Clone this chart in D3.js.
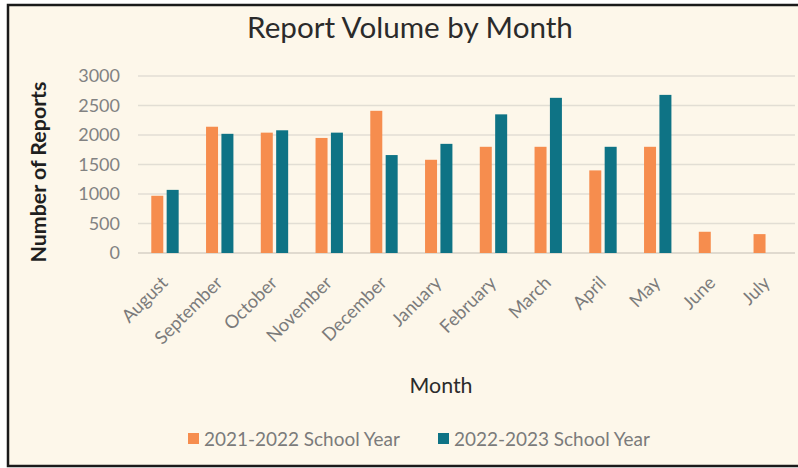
<!DOCTYPE html>
<html><head><meta charset="utf-8">
<script src="https://cdn.jsdelivr.net/npm/d3@7"></script>
<style>body{margin:0;background:#fff}svg{display:block}</style></head>
<body><svg id="c" width="798" height="468"></svg>
<script>
const months = ["August","September","October","November","December","January","February","March","April","May","June","July"];
const seriesNames = ["2021-2022 School Year","2022-2023 School Year"];
const values2122 = [970,2140,2040,1950,2410,1580,1800,1800,1400,1800,360,320];
const values2223 = [1070,2020,2080,2040,1660,1850,2350,2630,1800,2680,null,null];
const yTicks = [0,500,1000,1500,2000,2500,3000];
const colors = ["#F68D4E","#0E7385"];

const svg = d3.select("#c");
const FONT = "Lato, 'Open Sans', sans-serif";

svg.append("rect").attr("x",8).attr("y",5).attr("width",800).attr("height",461)
  .attr("fill","#FDF7EA").attr("stroke","#1a1a1a").attr("stroke-width",2.5);

const x0 = d3.scaleBand().domain(months).range([137.6,794.6]).paddingInner(0.5).paddingOuter(0.25);
const x1 = d3.scaleBand().domain(seriesNames).range([0,x0.bandwidth()]).paddingInner(0.22);
const y = d3.scaleLinear().domain([0,3000]).range([253,76]);

function fit(sel, target){
  const w = sel.node().getComputedTextLength();
  const fs = parseFloat(sel.attr("font-size"));
  sel.attr("font-size", fs*target/w);
  return fs*target/w;
}

// gridlines
svg.append("g").selectAll("line").data(yTicks).join("line")
  .attr("x1",138).attr("x2",795).attr("y1",d=>y(d)).attr("y2",d=>y(d))
  .attr("stroke",d=>d===0?"#D6D1C6":"#E2DED4").attr("stroke-width",1.5);

// y tick labels
svg.append("g").selectAll("text").data(yTicks).join("text")
  .attr("x",120).attr("y",d=>y(d)).attr("dy","0.36em").attr("text-anchor","end")
  .attr("font-family",FONT).attr("font-size",18).attr("fill","#828282").text(d=>d);

// bars
const rows = months.map((m,i)=>({m, v:[values2122[i], values2223[i]]}));
const g = svg.append("g").selectAll("g").data(rows).join("g")
  .attr("transform",d=>`translate(${x0(d.m)},0)`);
g.selectAll("rect").data(d=>d.v.map((v,j)=>({s:seriesNames[j],v,j})).filter(e=>e.v!=null)).join("rect")
  .attr("x",e=>x1(e.s)).attr("width",x1.bandwidth())
  .attr("y",e=>y(e.v)).attr("height",e=>y(0)-y(e.v))
  .attr("fill",e=>colors[e.j]);

// x labels
const xl = svg.append("g").selectAll("text").data(months).join("text")
  .attr("text-anchor","end")
  .attr("transform",d=>`translate(${x0(d)+x0.bandwidth()/2+4},${284}) rotate(-45)`)
  .attr("font-family",FONT).attr("font-size",16).attr("fill","#7b7b7b").text(d=>d);
const sep = xl.filter(d=>d==="September");
const fsx = fit(sep, 87);
xl.attr("font-size",fsx);

// title
const t = svg.append("text").attr("x",410).attr("y",38).attr("text-anchor","middle")
  .attr("font-family",FONT).attr("font-size",26).attr("fill","#2b2b2b").text("Report Volume by Month");
fit(t,326);

// axis titles
const mt = svg.append("text").attr("x",441).attr("y",393).attr("text-anchor","middle")
  .attr("font-family",FONT).attr("font-size",20).attr("fill","#2b2b2b").text("Month");
fit(mt,63);
const yt = svg.append("text").attr("transform","translate(46,172) rotate(-90)").attr("text-anchor","middle")
  .attr("font-family",FONT).attr("font-weight","bold").attr("font-size",16).attr("fill","#1f1f1f").text("Number of Reports");
fit(yt,181);

// legend
const legX = [188,438];
const leg = svg.append("g").selectAll("g").data(seriesNames).join("g");
leg.append("rect").attr("x",(d,i)=>legX[i]).attr("y",433).attr("width",11).attr("height",11).attr("fill",(d,i)=>colors[i]);
leg.append("text").attr("x",(d,i)=>legX[i]+16).attr("y",446)
  .attr("font-family",FONT).attr("font-size",18).attr("fill","#7b7b7b").text(d=>d)
  .each(function(){ fit(d3.select(this),196); });
</script></body></html>
